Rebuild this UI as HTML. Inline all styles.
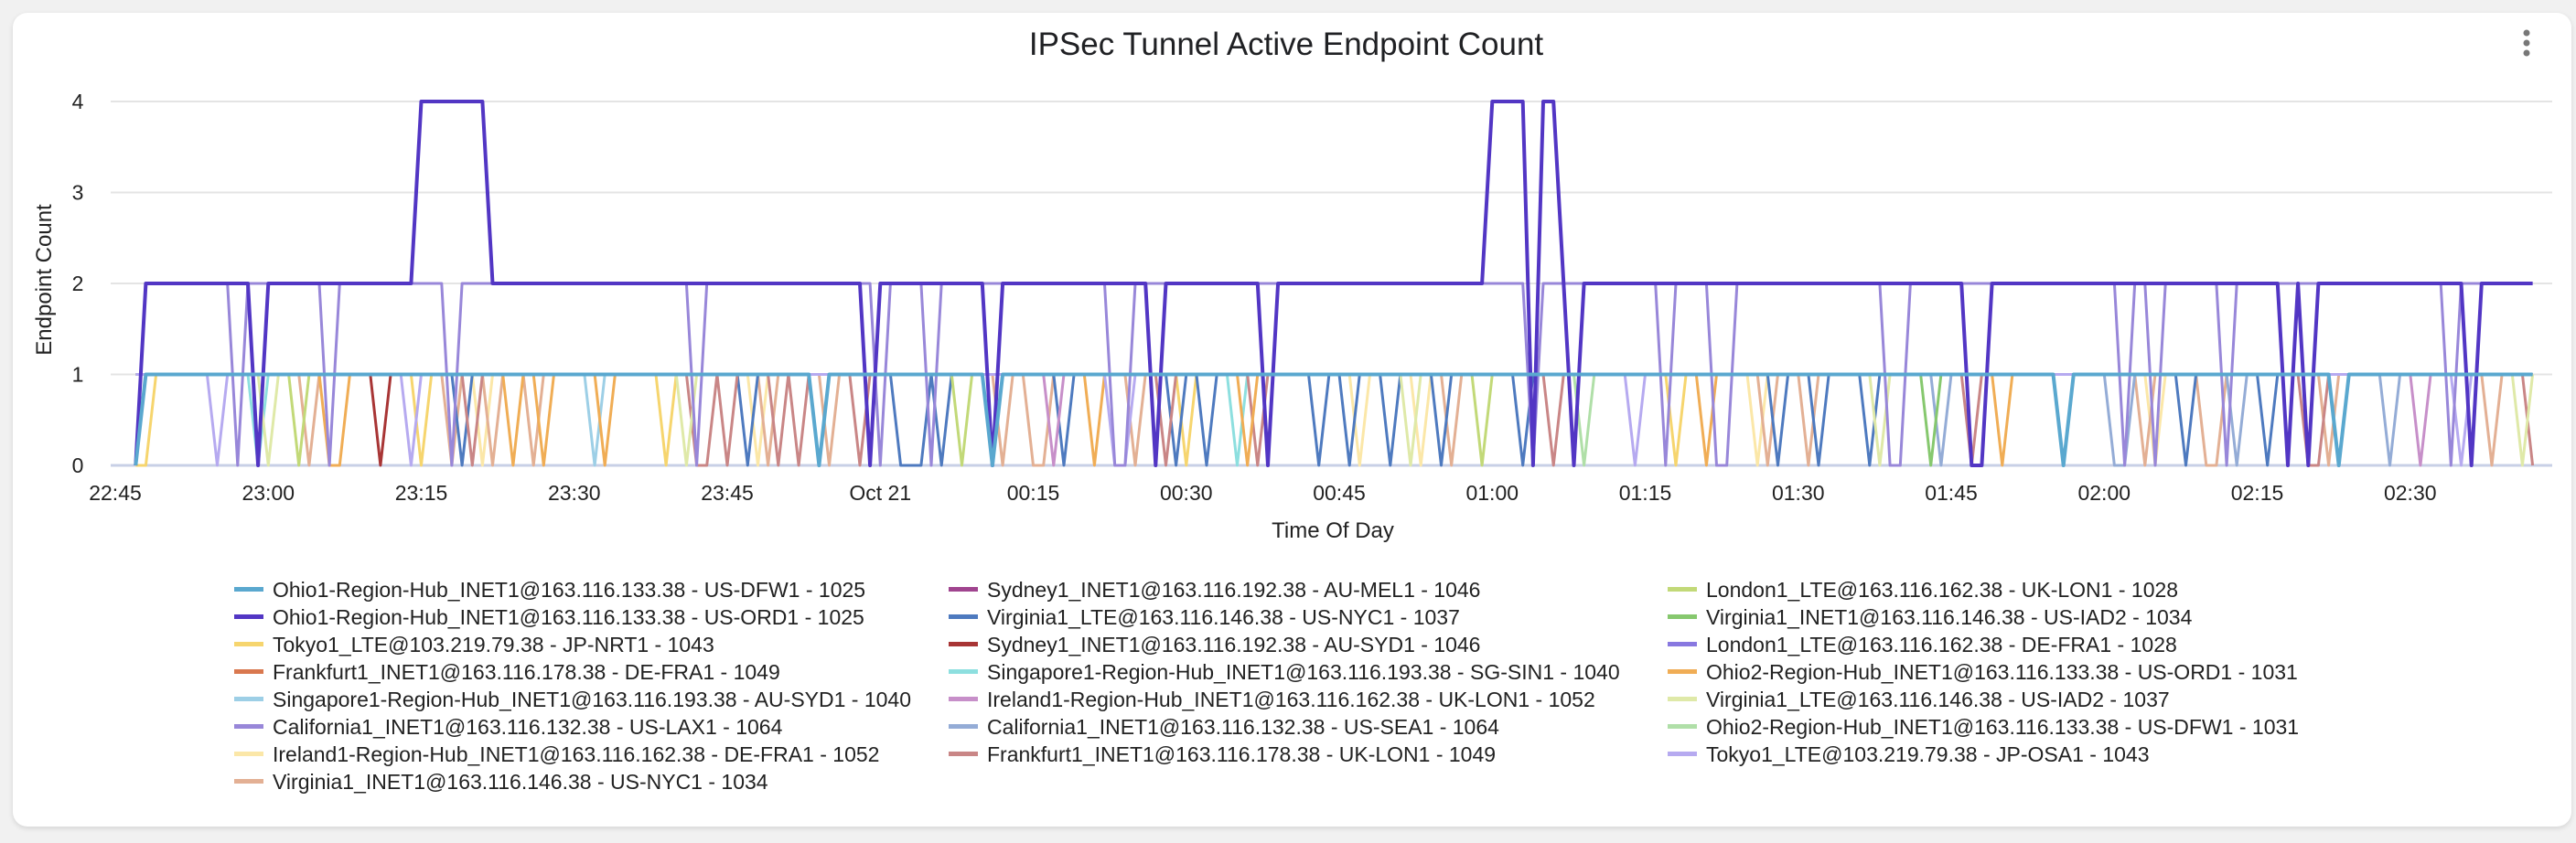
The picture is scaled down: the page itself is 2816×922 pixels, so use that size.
<!DOCTYPE html>
<html><head><meta charset="utf-8"><style>
html,body{margin:0;padding:0;background:#f1f1f1;}
body{width:2816px;height:922px;overflow:hidden;font-family:"Liberation Sans",sans-serif;}
#card{position:absolute;left:14px;top:14px;width:2797px;height:890px;background:#fff;border-radius:16px;box-shadow:0 2px 6px rgba(0,0,0,0.12);}
svg{position:absolute;left:0;top:0;}
</style></head><body>
<div id="card"></div>
<svg id="chart" width="2816" height="922" font-family="Liberation Sans, sans-serif">
<text x="1406" y="60" font-size="35" fill="#202124" text-anchor="middle">IPSec Tunnel Active Endpoint Count</text>
<g><circle cx="2762" cy="36" r="3.5" fill="#777"/><circle cx="2762" cy="47" r="3.5" fill="#777"/><circle cx="2762" cy="58" r="3.5" fill="#777"/></g>
<text transform="translate(56,306) rotate(-90)" font-size="24" fill="#222" text-anchor="middle">Endpoint Count</text>
<text x="1457" y="588" font-size="24" fill="#222" text-anchor="middle">Time Of Day</text>
<g id="grid"></g><g id="xticks"></g><g id="series"></g><g id="legend"></g>
</svg>
<script>
const tickLabels=['22:45','23:00','23:15','23:30','23:45','Oct 21','00:15','00:30','00:45','01:00','01:15','01:30','01:45','02:00','02:15','02:30'];
const tickMinutes=[0,15,30,45,60,75,90,105,120,135,150,165,180,195,210,225];
const yTicks=[0,1,2,3,4];
const seriesNames=['Ohio1-Region-Hub_INET1@163.116.133.38 - US-DFW1 - 1025','Ohio1-Region-Hub_INET1@163.116.133.38 - US-ORD1 - 1025','Tokyo1_LTE@103.219.79.38 - JP-NRT1 - 1043','Frankfurt1_INET1@163.116.178.38 - DE-FRA1 - 1049','Singapore1-Region-Hub_INET1@163.116.193.38 - AU-SYD1 - 1040','California1_INET1@163.116.132.38 - US-LAX1 - 1064','Ireland1-Region-Hub_INET1@163.116.162.38 - DE-FRA1 - 1052','Virginia1_INET1@163.116.146.38 - US-NYC1 - 1034','Sydney1_INET1@163.116.192.38 - AU-MEL1 - 1046','Virginia1_LTE@163.116.146.38 - US-NYC1 - 1037','Sydney1_INET1@163.116.192.38 - AU-SYD1 - 1046','Singapore1-Region-Hub_INET1@163.116.193.38 - SG-SIN1 - 1040','Ireland1-Region-Hub_INET1@163.116.162.38 - UK-LON1 - 1052','California1_INET1@163.116.132.38 - US-SEA1 - 1064','Frankfurt1_INET1@163.116.178.38 - UK-LON1 - 1049','London1_LTE@163.116.162.38 - UK-LON1 - 1028','Virginia1_INET1@163.116.146.38 - US-IAD2 - 1034','London1_LTE@163.116.162.38 - DE-FRA1 - 1028','Ohio2-Region-Hub_INET1@163.116.133.38 - US-ORD1 - 1031','Virginia1_LTE@163.116.146.38 - US-IAD2 - 1037','Ohio2-Region-Hub_INET1@163.116.133.38 - US-DFW1 - 1031','Tokyo1_LTE@103.219.79.38 - JP-OSA1 - 1043'];
const seriesColors=['#5aa8cf','#5236c4','#f6d56e','#d9784f','#9dcfe6','#9887d9','#fbe7a8','#e3b094','#a0448f','#4e7abf','#a83535','#8ddfdf','#c78fc9','#94acd6','#c98686','#c2d978','#86c86e','#8878e0','#f0ad55','#dfe9a8','#b0dfa8','#b6aaf0'];
// minutes since 22:45; samples every minute from 2 to 237
const firstMinute=2, lastMinute=237;
// multi-level series as [minute, count] vertices
const ord1Points=[[2,0],[3,2],[13,2],[14,0],[15,2],[29,2],[30,4],[36,4],[37,2],[73,2],[74,0],[75,2],[85,2],[86,0],[87,2],[101,2],[102,0],[103,2],[112,2],[113,0],[114,2],[134,2],[135,4],[138,4],[139,0],[140,4],[141,4],[142,2],[143,0],[144,2],[181,2],[182,0],[183,0],[184,2],[212,2],[213,0],[214,2],[215,0],[216,2],[230,2],[231,0],[232,2],[237,2]];
const lax1Points=[[2,0],[3,2],[11,2],[12,0],[13,2],[20,2],[21,0],[22,2],[32,2],[33,0],[34,2],[56,2],[57,0],[58,2],[74,2],[75,0],[76,2],[79,2],[80,0],[81,2],[97,2],[98,0],[99,0],[100,2],[138,2],[139,0],[140,2],[151,2],[152,0],[153,2],[156,2],[157,0],[158,0],[159,2],[173,2],[174,0],[175,0],[176,2],[196,2],[197,0],[198,2],[199,2],[200,0],[201,2],[206,2],[207,0],[208,2],[228,2],[229,0],[230,2],[237,2]];
// single-endpoint series: minutes where count dropped to 0 (otherwise 1)
const zeroMinutes=[
[2,69,86,191,218],null,[2,3,30,54,105,153],[],[47],null,[36,63,122,128,161,200],
[2,19,33,37,41,64,70,87,90,91,100,131,162,166,199,205,206,217,233],[],
[34,62,77,78,79,81,93,104,107,118,121,125,130,138,163,167,172,203,211],[26],[14,110],[92,226],
[179,196,197,208,223],[35,57,58,60,65,67,73,103,112,141,182,215,216,237],[18,83,134],[178],[],
[21,22,39,42,48,96,111,156,185],[15,56,127,173,236],[144],[10,29,98,99,149,230]];

const NS='http://www.w3.org/2000/svg';
const X0=126, PXMIN=11.15, Y0=509, PXUNIT=99.5;
function xs(m){return X0+m*PXMIN;}
function ys(v){return Y0-v*PXUNIT;}
const grid=document.getElementById('grid');
yTicks.forEach(v=>{
 const l=document.createElementNS(NS,'line');
 
 
 l.setAttribute('x1',121);l.setAttribute('x2',2790);l.setAttribute('y1',ys(v));l.setAttribute('y2',ys(v));
 l.setAttribute('stroke',v===0?'#c8d0e6':'#e4e4e4');l.setAttribute('stroke-width',v===0?3:2);
 grid.appendChild(l);
 const t=document.createElementNS(NS,'text');
 
 
 t.setAttribute('x',85);t.setAttribute('y',ys(v)+8);t.setAttribute('font-size','23');t.setAttribute('fill','#222');t.setAttribute('text-anchor','middle');
 t.textContent=String(v);grid.appendChild(t);
});
const xt=document.getElementById('xticks');
tickLabels.forEach((lab,i)=>{
 const t=document.createElementNS(NS,'text');
 
 
 t.setAttribute('x',xs(tickMinutes[i]));t.setAttribute('y',547);t.setAttribute('font-size','23');t.setAttribute('fill','#222');t.setAttribute('text-anchor','middle');
 t.textContent=lab;xt.appendChild(t);
});
function pointsFor(i){
 if(i===1) return ord1Points;
 if(i===5) return lax1Points;
 const z=zeroMinutes[i]; const pts=[];
 for(let m=firstMinute;m<=lastMinute;m++) pts.push([m, z.indexOf(m)>=0?0:1]);
 return pts;
}
const sg=document.getElementById('series');
const order=[];
for(let i=2;i<seriesNames.length;i++) if(i!==5) order.push(i);
order.push(5,1,0);
order.forEach(i=>{
 const p=document.createElementNS(NS,'polyline');
 
 
 p.setAttribute('points',pointsFor(i).map(q=>xs(q[0]).toFixed(1)+','+ys(q[1]).toFixed(1)).join(' '));
 p.setAttribute('fill','none');p.setAttribute('stroke',seriesColors[i]);
 p.setAttribute('stroke-width',i===1?4:(i===0?4:3));p.setAttribute('stroke-linejoin','round');
 sg.appendChild(p);
});
const lg=document.getElementById('legend');
const colX=[256,1037,1823], rowY=645, rowH=30;
seriesNames.forEach((n,i)=>{
 const c=i<8?0:(i<15?1:2); const r=i<8?i:(i<15?i-8:i-15);
 const g=document.createElementNS(NS,'g');
 
 
 const s=document.createElementNS(NS,'rect');
 s.setAttribute('x',colX[c]);s.setAttribute('y',rowY+r*rowH-3);s.setAttribute('width',32);s.setAttribute('height',5);s.setAttribute('fill',seriesColors[i]);
 g.appendChild(s);
 const t=document.createElementNS(NS,'text');
 t.setAttribute('x',colX[c]+42);t.setAttribute('y',rowY+r*rowH+8);t.setAttribute('font-size','23');t.setAttribute('fill','#222');
 t.textContent=n;g.appendChild(t);lg.appendChild(g);
});
</script>
</body></html>
